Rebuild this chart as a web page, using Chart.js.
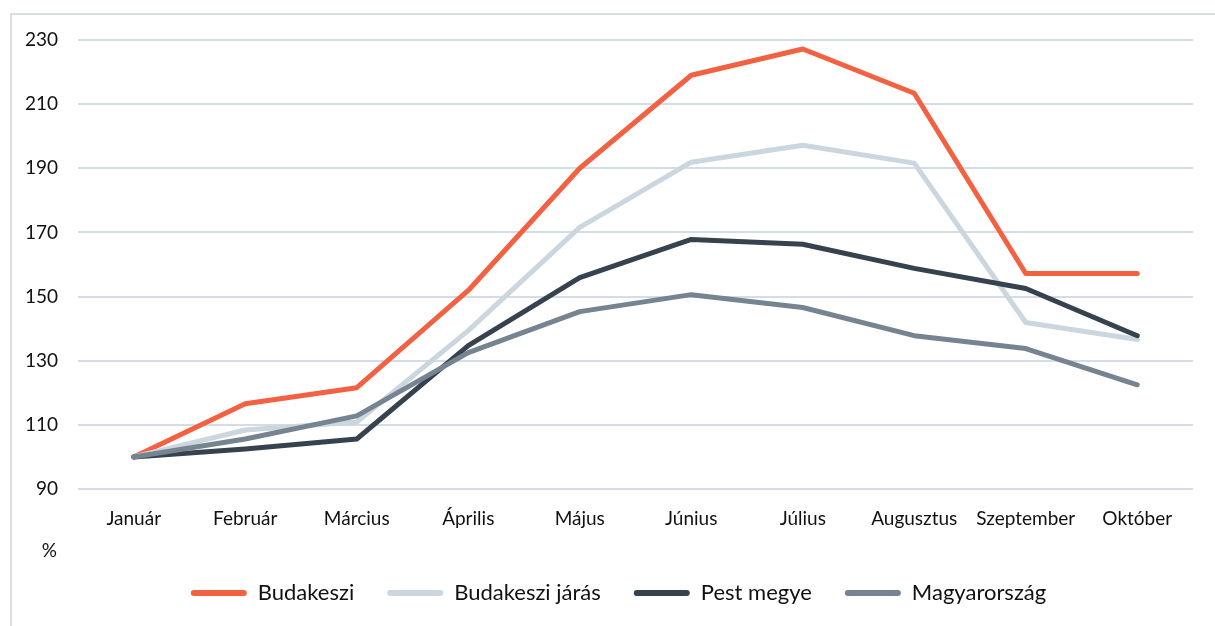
<!DOCTYPE html>
<html>
<head>
<meta charset="utf-8">
<script src="https://cdn.jsdelivr.net/npm/chart.js@4"></script>
<style>
  html, body { margin: 0; padding: 0; background: #fff; }
  #wrap { position: relative; width: 1215px; height: 626px; overflow: hidden; }
  #frame { position: absolute; left: 10px; top: 13px; width: 1300px; height: 700px;
           border-top: 2px solid #D9DEE5; border-left: 2px solid #D9DEE5; }
  canvas { position: absolute; left: 0; top: 0; }
</style>
</head>
<body>
<div id="wrap">
  <div id="frame"></div>
  <canvas id="chart" width="1215" height="626"></canvas>
</div>
<script>
  const months = ['Január', 'Február', 'Március', 'Április', 'Május', 'Június', 'Július', 'Augusztus', 'Szeptember', 'Október'];

  const budakeszi = [100, 116.6, 121.6, 151.9, 190, 219, 227.2, 213.4, 157.2, 157.2];
  const budakesziJaras = [100, 108.4, 110.9, 139.4, 171.6, 191.9, 197.2, 191.6, 141.9, 136.6];
  const pestMegye = [100, 102.5, 105.6, 134.7, 155.9, 167.8, 166.3, 158.8, 152.5, 137.8];
  const magyarorszag = [100, 105.6, 112.8, 132.5, 145.3, 150.6, 146.6, 137.8, 133.8, 122.5];

  const font = "Lato, 'Open Sans', sans-serif";

  function line(label, data, color, order) {
    return {
      label: label,
      data: data,
      borderColor: color,
      backgroundColor: color,
      borderWidth: 5,
      borderCapStyle: 'round',
      borderJoinStyle: 'round',
      pointRadius: 0,
      tension: 0,
      order: order
    };
  }

  // "%" unit label under the y axis
  const unitLabel = {
    id: 'unitLabel',
    afterDraw(chart) {
      const ctx = chart.ctx;
      ctx.save();
      ctx.font = '19px ' + font;
      ctx.fillStyle = '#111';
      ctx.textAlign = 'right';
      ctx.textBaseline = 'middle';
      ctx.fillText('%', 57, 551);
      ctx.restore();
    }
  };

  // legend sits a little right of the canvas centre in the original
  const legendShift = {
    id: 'legendShift',
    afterLayout(chart) {
      chart.legend.left += 22;
      chart.legend.right += 22;
    }
  };

  new Chart(document.getElementById('chart'), {
    type: 'line',
    data: {
      labels: months,
      datasets: [
        line('Budakeszi', budakeszi, '#F26142', 4),
        line('Budakeszi járás', budakesziJaras, '#CBD6DE', 3),
        line('Pest megye', pestMegye, '#36434F', 2),
        line('Magyarország', magyarorszag, '#768492', 1)
      ]
    },
    options: {
      responsive: false,
      animation: false,
      layout: { padding: { top: 40, right: 22, bottom: 12, left: 0 } },
      scales: {
        x: {
          offset: true,
          grid: { display: false },
          border: { display: false },
          ticks: { color: '#111', font: { family: font, size: 19 }, padding: 10, maxRotation: 0 },
          afterFit(scale) { scale.height = 60; }
        },
        y: {
          min: 90,
          max: 230,
          ticks: { stepSize: 20, color: '#111', font: { family: font, size: 19 }, padding: 20 },
          grid: { color: '#D5DCE5', lineWidth: 2, drawTicks: false },
          border: { display: false },
          afterFit(scale) { scale.width = 78; }
        }
      },
      plugins: {
        legend: {
          position: 'bottom',
          labels: {
            color: '#111',
            font: { family: font, size: 22 },
            boxWidth: 56,
            boxHeight: 6,
            useBorderRadius: true,
            borderRadius: 3,
            padding: 33,
            sort: (a, b) => a.datasetIndex - b.datasetIndex,
            generateLabels(chart) {
              const items = Chart.defaults.plugins.legend.labels.generateLabels(chart);
              items.forEach(it => { it.lineWidth = 0; });
              return items;
            }
          }
        },
        tooltip: { enabled: false }
      }
    },
    plugins: [unitLabel, legendShift]
  });
</script>
</body>
</html>
